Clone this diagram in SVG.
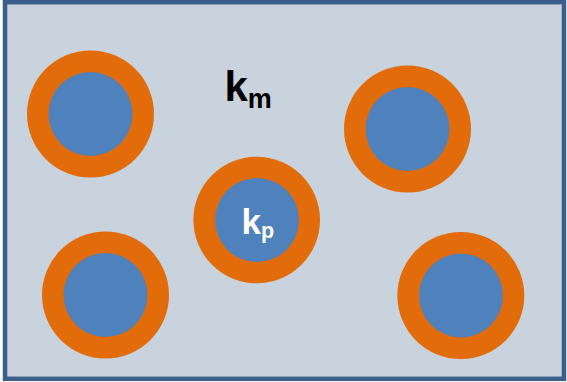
<svg xmlns="http://www.w3.org/2000/svg" width="567" height="382" viewBox="0 0 567 382">
<style>
.frame{fill:#C9D3DD;stroke:#3A5F8C;stroke-width:4.5}
.shell{fill:#E36C0A}
.core{fill:#4F81BD}
.lbl{font-family:"Liberation Sans",Arial,sans-serif;font-weight:bold}
</style>
<rect class="frame" x="5" y="2.2" width="559" height="376.6"/>
<g id="p1"><circle class="shell" cx="90.5" cy="114" r="63.5"/><circle class="core" cx="90.5" cy="114" r="42"/></g>
<g id="p2"><circle class="shell" cx="407.5" cy="129" r="63.5"/><circle class="core" cx="407.5" cy="129" r="42"/></g>
<g id="p3"><circle class="shell" cx="256.7" cy="220" r="63.3"/><circle class="core" cx="257" cy="220" r="42"/>
<text class="lbl" x="241.5" y="234.3" font-size="35" fill="#FFFFFF">k<tspan font-size="21.5" dy="3.5">p</tspan></text></g>
<g id="p4"><circle class="shell" cx="105.5" cy="295" r="63.5"/><circle class="core" cx="105.5" cy="295" r="42"/></g>
<g id="p5"><circle class="shell" cx="460.8" cy="295.5" r="63.5"/><circle class="core" cx="461" cy="295.5" r="42"/></g>
<g id="matrix"><text class="lbl" x="224.5" y="101" font-size="42" fill="#000000">k<tspan font-size="27" dy="6.5">m</tspan></text></g>
<g id="connectors"/>
</svg>
